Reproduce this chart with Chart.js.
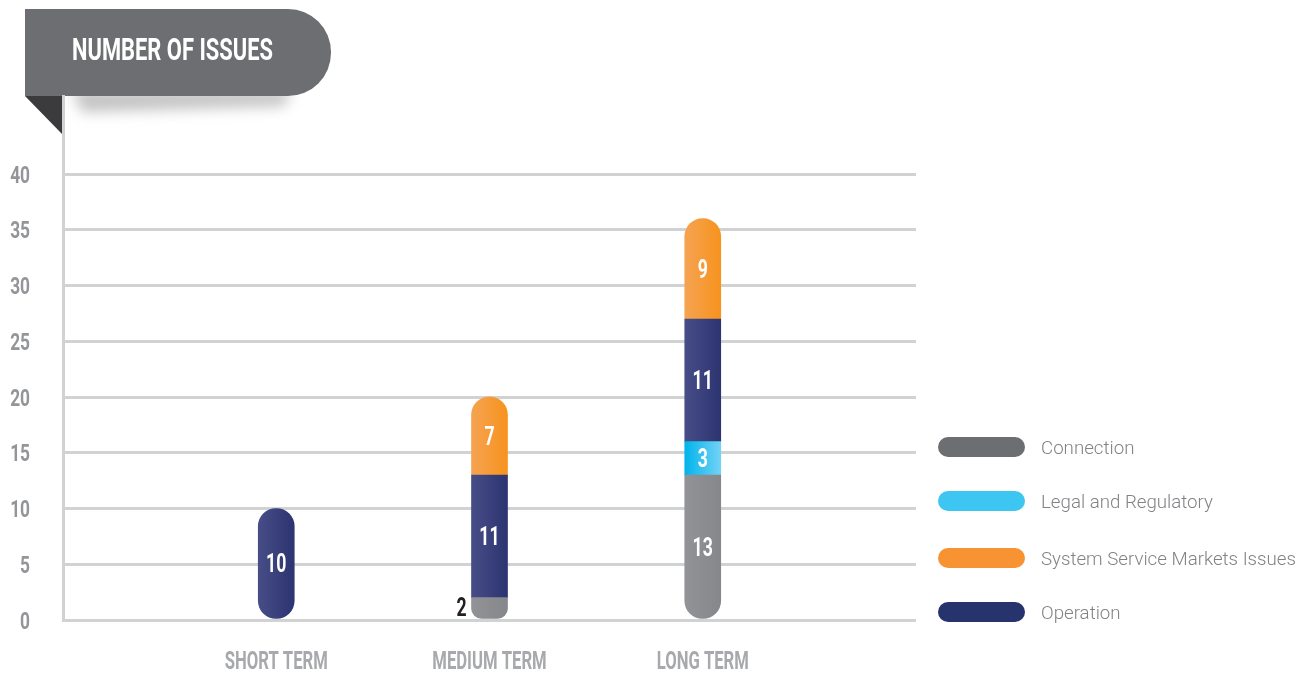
<!DOCTYPE html>
<html>
<head>
<meta charset="utf-8">
<script src="https://cdn.jsdelivr.net/npm/chart.js@4/dist/chart.umd.min.js"></script>
<style>
html,body{margin:0;padding:0;background:#fff;}
#wrap{width:1311px;height:673px;position:relative;}
</style>
</head>
<body>
<div id="wrap"><canvas id="c" width="1311" height="673"></canvas></div>
<script>
// ---- data ----
const categories = ['', 'SHORT TERM', 'MEDIUM TERM', 'LONG TERM', ''];
const seriesNames = ['Connection', 'Legal and Regulatory', 'Operation', 'System Service Markets Issues'];
const connection = [null, null, 2, 13, null];
const legal = [null, null, null, 3, null];
const operation = [null, 10, 11, 11, null];
const systemService = [null, null, 7, 9, null];
const yTicks = [0, 5, 10, 15, 20, 25, 30, 35, 40];
const legendOrder = ['Connection', 'Legal and Regulatory', 'System Service Markets Issues', 'Operation'];
const titleText = 'NUMBER OF ISSUES';

// ---- styles ----
const FONT = "Roboto, 'Open Sans', sans-serif";
const CAP = 0.711;
const BAR_W = 36;
const styles = {
  'Connection': {c1: '#929397', c2: '#86878b', legend: '#6d6e71'},
  'Legal and Regulatory': {c1: '#00b4ea', c2: '#73d2f6', legend: '#3ec6f2'},
  'Operation': {c1: '#474d86', c2: '#2c3471', legend: '#27336d'},
  'System Service Markets Issues': {c1: '#f5a352', c2: '#f7931e', legend: '#f79332'}
};
let condense = 0.65;

// draw bold condensed text, vertically centred on cy (cap height)
function condText(c, text, x, cy, size, color, align, extra) {
  c.save();
  c.font = 'bold ' + size + 'px ' + FONT;
  c.fillStyle = color;
  c.textAlign = align;
  c.textBaseline = 'alphabetic';
  c.translate(x, cy + size * CAP / 2);
  c.scale(condense * (extra || 1), 1);
  c.fillText(text, 0, 0);
  c.restore();
}

function gradFor(name) {
  const s = styles[name];
  return (ctx) => {
    const ch = ctx.chart;
    const xs = ch.scales && ch.scales.x;
    if (!xs || ctx.dataIndex === undefined) return s.c1;
    const px = xs.getPixelForValue(ctx.dataIndex);
    if (!isFinite(px)) return s.c1;
    const g = ch.ctx.createLinearGradient(px - BAR_W / 2, 0, px + BAR_W / 2, 0);
    g.addColorStop(0, s.c1);
    g.addColorStop(1, s.c2);
    return g;
  };
}
function radiusFor(ctx) {
  const i = ctx.dataIndex, d = ctx.datasetIndex;
  const ds = ctx.chart.data.datasets;
  const r = BAR_W / 2;
  if (i === undefined) return r;
  let below = false, above = false;
  for (let k = 0; k < ds.length; k++) {
    const v = ds[k].data[i];
    if (v) { if (k < d) below = true; if (k > d) above = true; }
  }
  return {topLeft: above ? 0 : r, topRight: above ? 0 : r, bottomLeft: below ? 0 : r, bottomRight: below ? 0 : r};
}

const seriesData = [connection, legal, operation, systemService];
const datasets = seriesNames.map((n, k) => ({
  label: n,
  data: seriesData[k],
  backgroundColor: gradFor(n),
  borderWidth: 0,
  borderSkipped: false,
  borderRadius: radiusFor,
  barThickness: BAR_W
}));

const titlePlugin = {
  id: 'titleTab',
  beforeDraw(chart) {
    const c = chart.ctx;
    c.save();
    c.font = 'bold 31px ' + FONT;
    condense = 201 / c.measureText(titleText).width;
    c.restore();

    c.save();
    c.filter = 'blur(7px)';
    c.fillStyle = 'rgba(120,120,120,0.45)';
    c.beginPath();
    c.moveTo(72, 90); c.lineTo(292, 90); c.lineTo(284, 106); c.lineTo(82, 112); c.closePath();
    c.fill();
    c.filter = 'none';
    c.fillStyle = '#ffffff';
    c.fillRect(25, 0, 320, 96);
    const x0 = 25, y0 = 9, x1 = 331, y1 = 96, r = 43;
    c.fillStyle = '#6d6e71';
    c.beginPath();
    c.moveTo(x0, y0);
    c.lineTo(x1 - r, y0);
    c.arcTo(x1, y0, x1, y0 + r, r);
    c.arcTo(x1, y1, x1 - r, y1, r);
    c.lineTo(x0, y1);
    c.closePath();
    c.fill();
    c.fillStyle = '#3b3b3d';
    c.beginPath();
    c.moveTo(25, 96); c.lineTo(62, 96); c.lineTo(62, 134); c.closePath();
    c.fill();
    c.restore();
    condText(c, titleText, 72, 49, 31, '#ffffff', 'left');
  }
};

const tickPlugin = {
  id: 'condTicks',
  afterDraw(chart) {
    const c = chart.ctx;
    const ys = chart.scales.y, xs = chart.scales.x;
    ys.ticks.forEach((t) => {
      condText(c, String(t.value), 30, ys.getPixelForValue(t.value), 24.5, '#939598', 'right');
    });
    xs.ticks.forEach((t, i) => {
      const lab = chart.data.labels[i];
      if (!lab) return;
      condText(c, lab, xs.getPixelForTick(i), 660, 26.5, '#a7a9ac', 'center', 0.89);
    });
  }
};

const labelPlugin = {
  id: 'segLabels',
  afterDatasetsDraw(chart) {
    const c = chart.ctx;
    chart.data.datasets.forEach((ds, d) => {
      const meta = chart.getDatasetMeta(d);
      meta.data.forEach((el, i) => {
        const v = ds.data[i];
        if (!v) return;
        const h = Math.abs(el.base - el.y);
        const cy = (el.y + el.base) / 2;
        if (h < 30) {
          condText(c, String(v), el.x - 28, cy - 1, 25, '#231f20', 'center');
        } else {
          condText(c, String(v), el.x, cy, 25, '#ffffff', 'center');
        }
      });
    });
  }
};

const legendPlugin = {
  id: 'pillLegend',
  afterDraw(chart) {
    const c = chart.ctx;
    const ys = [447, 501, 558, 612];
    c.save();
    legendOrder.forEach((n, k) => {
      const y = ys[k];
      c.fillStyle = styles[n].legend;
      c.beginPath();
      c.roundRect(938, y - 10, 87, 20, 10);
      c.fill();
      c.fillStyle = '#808285';
      c.font = '300 18.7px ' + FONT;
      c.textAlign = 'left';
      c.textBaseline = 'alphabetic';
      c.fillText(n, 1041, y + 18.7 * CAP / 2);
    });
    c.restore();
  }
};

new Chart(document.getElementById('c'), {
  type: 'bar',
  data: {labels: categories, datasets},
  plugins: [titlePlugin, labelPlugin, tickPlugin, legendPlugin],
  options: {
    responsive: false,
    animation: false,
    events: [],
    layout: {padding: {left: 10, right: 395, top: 96, bottom: 0}},
    plugins: {legend: {display: false}, tooltip: {enabled: false}, title: {display: false}},
    scales: {
      x: {
        stacked: true,
        offset: false,
        grid: {display: false, drawTicks: false},
        border: {display: false},
        afterFit: s => { s.height = 53; },
        ticks: {display: false, autoSkip: false, maxRotation: 0}
      },
      y: {
        stacked: true,
        min: 0,
        max: 47,
        afterFit: s => { s.width = 53; },
        afterBuildTicks: s => { s.ticks = yTicks.map(v => ({value: v})); },
        grid: {color: '#d1d2d4', lineWidth: 3, drawTicks: false},
        border: {display: true, color: '#d1d2d4', width: 3},
        ticks: {display: false}
      }
    }
  }
});
</script>
</body>
</html>
